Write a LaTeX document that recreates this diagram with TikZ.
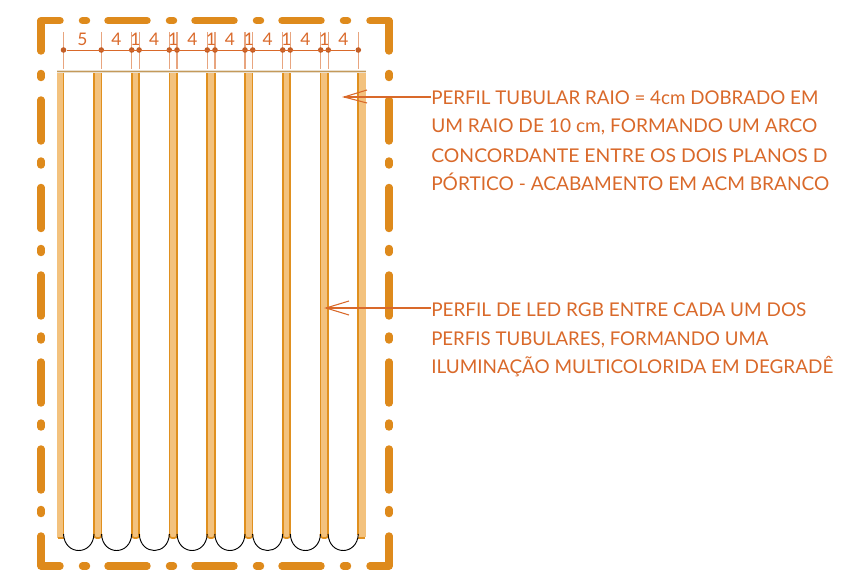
\documentclass[tikz,border=0pt]{standalone}
\usepackage{fontspec}
\usepackage{graphicx}
\setmainfont{Lato}
\definecolor{frameC}{HTML}{DE8A1C}
\definecolor{tubeC}{HTML}{F3C27E}
\definecolor{edgeC}{HTML}{E0901F}
\definecolor{dimC}{HTML}{D9692A}
\definecolor{topC}{HTML}{C49A5A}
\definecolor{haloC}{HTML}{E9DFCF}
\newcommand{\fitw}[2]{\resizebox{#1}{\height}{#2}}
\tikzset{
  framedash/.style={draw=frameC,line width=5.6pt,line cap=round,line join=round},
  tube/.style={fill=tubeC,draw=none},
  tubeedge/.style={draw=edgeC,line width=1.3pt},
  dimline/.style={draw=dimC,line width=0.6pt},
  dimtick/.style={draw=dimC!60,line width=0.8pt},
  dimdot/.style={circle,fill=dimC!90!black,inner sep=0pt,minimum size=4.2pt},
  dimlabel/.style={text=dimC,font=\fontsize{13}{13}\selectfont,inner sep=0pt,anchor=center},
  note/.style={text=dimC,font=\fontsize{14.2}{15}\selectfont,inner sep=0pt,anchor=west,text height=10.4pt,text depth=0pt},
  leader/.style={draw=dimC,line width=0.8pt},
  arc/.style={draw=black,line width=0.7pt}
}
\begin{document}
\begin{tikzpicture}[x=0.75pt,y=-0.75pt]
\useasboundingbox (0,0) rectangle (862,570);
% frame
\draw[framedash] (60,20.7) -- (41,20.7) -- (41,51);
\draw[framedash] (370,20.7) -- (389,20.7) -- (389,51);
\draw[framedash] (60,566) -- (41,566) -- (41,536);
\draw[framedash] (370,566) -- (389,566) -- (389,536);
\foreach \a in {108,195,282}{
  \draw[framedash] (\a,20.7) -- ({\a+39},20.7);
  \draw[framedash] (\a,566) -- ({\a+39},566);
}
\foreach \a in {84.5,171.5,258.5,345.5}{
  \draw[framedash] ({\a-2},20.7) -- ({\a+2},20.7);
  \draw[framedash] ({\a-2},566) -- ({\a+2},566);
}
\foreach \a in {100,187.5,275,362,449}{
  \draw[framedash] (41,\a) -- (41,{\a+41});
  \draw[framedash] (389,\a) -- (389,{\a+41});
}
\foreach \a in {75.5,163,250.5,338,425,511.5}{
  \draw[framedash] (41,{\a-2}) -- (41,{\a+2});
  \draw[framedash] (389,{\a-2}) -- (389,{\a+2});
}
% tubes
\fill[tube] (57,71) -- (57,538) -- (63.5,538) -- (63.5,71) -- cycle;
\draw[tubeedge] (63.5,71) -- (63.5,536);
\draw[tubeedge] (58,538) -- (63.5,538);
\foreach \l/\r in {94/101.5,131.7/139.3,169.4/177,207.2/214.8,245/252.6,282.7/290.3,320.5/328.1}{
  \fill[tube] (\l,71) rectangle (\r,537);
  \draw[tubeedge] (\l,71) -- (\l,535);
  \draw[tubeedge] (\r,71) -- (\r,535);
  \draw[tubeedge,rounded corners=2pt] (\l,534) -- (\l,538) -- (\r,538) -- (\r,534);
}
\fill[tube] (358.3,71) rectangle (366,537);
\draw[tubeedge] (358.3,71) -- (358.3,535);
\draw[tubeedge,line width=0.8pt] (358.3,538) -- (365,538);
% arcs
\foreach \l/\r in {63.5/94,101.5/131.7,139.3/169.4,177/207.2,214.8/245,252.6/282.7,290.3/320.5,328.1/358.3}{
  \draw[arc] (\l,534) .. controls ({\l+1},556) and ({\r-1},556) .. (\r,534);
}
% top line
\draw[draw=haloC,line width=2.4pt] (57,71.5) -- (366,71.5);
\draw[draw=topC,line width=1pt] (57,71.5) -- (366,71.5);
% dimension line
\foreach \i/\x in {0/63.5,1/101.3,2/131.7,3/139.1,4/169.3,5/177,6/207.3,7/215,8/245,9/252.7,10/282.7,11/290.3,12/320.7,13/328.3,14/358.3}{
  \coordinate (tb\i) at (\x,32);
  \coordinate (te\i) at (\x,69);
  \draw[dimtick] (tb\i) -- (te\i);
  \node[dimdot] (d\i) at (\x,50) {};
}
\draw[dimline] (d0) -- (d14);
\foreach \x/\t in {82.5/5,116.5/4,135.5/1,154.2/4,173.1/1,192.3/4,211.1/1,230/4,248.8/1,267.7/4,286.5/1,305.5/4,324.5/1,343.3/4}{
  \node[dimlabel] (l\x) at (\x,39.5) {\t};
}
% notes
\node[note] (n1) at (431,97.5) {\fitw{290.2pt}{PERFIL TUBULAR RAIO = 4cm DOBRADO EM}};
\node[note] (n2) at (431,126) {\fitw{289.5pt}{UM RAIO DE 10 cm, FORMANDO UM ARCO}};
\node[note] (n3) at (431,155.5) {\fitw{297pt}{CONCORDANTE ENTRE OS DOIS PLANOS D}};
\node[note] (n4) at (431,184) {\fitw{298.5pt}{PÓRTICO - ACABAMENTO EM ACM BRANCO}};
\node[note] (n5) at (431,310) {\fitw{281.2pt}{PERFIL DE LED RGB ENTRE CADA UM DOS}};
\node[note] (n6) at (431,339) {\fitw{252.7pt}{PERFIS TUBULARES, FORMANDO UMA}};
\node[note] (n7) at (431,367) {\fitw{301.5pt}{ILUMINAÇÃO MULTICOLORIDA EM DEGRADÊ}};
% leaders
\coordinate (tipa) at (344,97);
\coordinate (tipb) at (326,308);
\coordinate (starta) at (431,97);
\coordinate (startb) at (431,308);
\draw[leader] (starta) -- (tipa);
\draw[leader] (367,90) -- (tipa) -- (367,103);
\draw[leader] (startb) -- (tipb);
\draw[leader] (349,301) -- (tipb) -- (349,315);
\end{tikzpicture}
\end{document}
